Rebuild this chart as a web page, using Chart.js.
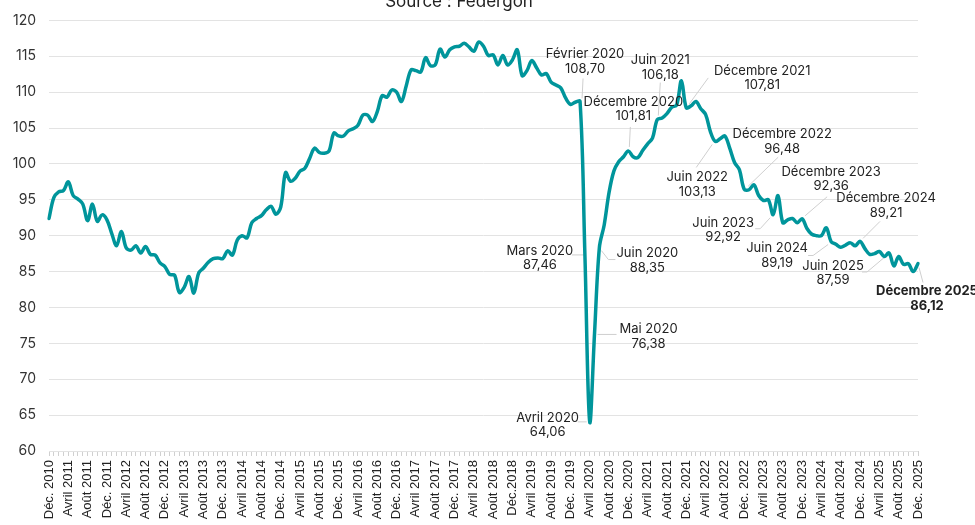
<!DOCTYPE html>
<html lang="fr">
<head>
<meta charset="utf-8">
<script src="https://cdn.jsdelivr.net/npm/chart.js@4.4.1/dist/chart.umd.min.js"></script>
<style>
  html, body { margin: 0; padding: 0; background: #fff; }
  #wrap { position: relative; width: 975px; height: 525px; overflow: hidden; }
  #wrap canvas { position: absolute; left: 0; top: -14px; }
</style>
</head>
<body>
<div id="wrap"><canvas id="chart" width="975" height="539"></canvas></div>
<script>
// --- DATA ---
const monthNames = ['Janvier', 'Février', 'Mars', 'Avril', 'Mai', 'Juin', 'Juillet', 'Août', 'Septembre', 'Octobre', 'Novembre', 'Décembre'];

// Monthly index, Dec. 2010 -> Dec. 2025
const values = [
  92.4,
  95.3, 96.1, 96.3, 97.5, 95.6, 95.1, 94.4, 92.1, 94.4, 92.0, 92.9, 92.2,          // 2011
  90.3, 88.6, 90.6, 88.3, 88.0, 88.6, 87.6, 88.5, 87.4, 87.3, 86.2, 85.7,          // 2012
  84.6, 84.5, 82.1, 82.8, 84.3, 82.0, 84.8, 85.5, 86.3, 86.8, 86.9, 86.8,          // 2013
  87.9, 87.3, 89.4, 90.0, 89.7, 91.8, 92.4, 92.8, 93.6, 94.1, 93.0, 94.0,          // 2014
  98.8, 97.6, 98.0, 99.0, 99.4, 100.8, 102.2, 101.6, 101.5, 101.8, 104.3, 103.9,   // 2015
  103.9, 104.6, 104.9, 105.4, 106.8, 106.8, 105.9, 107.3, 109.5, 109.3, 110.3, 110.0, // 2016
  108.7, 110.9, 113.1, 113.0, 112.8, 114.8, 113.7, 113.8, 116.0, 114.9, 115.9, 116.3, // 2017
  116.4, 116.8, 116.3, 115.7, 117.0, 116.4, 115.1, 115.2, 113.8, 115.1, 113.8, 114.5, // 2018
  115.9, 112.3, 113.0, 114.4, 113.4, 112.4, 112.6, 111.4, 111.0, 110.6, 109.2, 108.3, // 2019
  108.6, 108.70, 87.46, 64.06, 76.38, 88.35, 91.5, 96.0, 99.0, 100.3, 101.0, 101.81, // 2020
  101.0, 100.9, 101.9, 102.8, 103.6, 106.18, 106.4, 107.0, 107.9, 108.2, 111.6, 107.81, // 2021
  108.1, 108.7, 107.7, 106.9, 104.5, 103.13, 103.5, 103.9, 102.2, 100.2, 99.2, 96.48,  // 2022
  96.4, 97.1, 95.6, 94.9, 95.0, 92.92, 95.6, 91.8, 92.2, 92.4, 91.8, 92.36,          // 2023
  91.0, 90.2, 90.0, 90.0, 91.1, 89.19, 88.8, 88.4, 88.7, 89.0, 88.6, 89.21,          // 2024
  88.2, 87.4, 87.5, 87.8, 87.1, 87.59, 85.8, 87.1, 86.0, 86.1, 85.0, 86.12           // 2025
];

const categories = values.map((v, i) => {
  const m = (11 + i) % 12;
  const yr = 2010 + Math.floor((11 + i) / 12);
  return monthNames[m] + ' ' + yr;
});

const tickLabels = [
  'Déc. 2010',
  'Avril 2011', 'Août 2011', 'Déc. 2011',
  'Avril 2012', 'Août 2012', 'Déc. 2012',
  'Avril 2013', 'Août 2013', 'Déc. 2013',
  'Avril 2014', 'Août 2014', 'Déc. 2014',
  'Avril 2015', 'Août 2015', 'Déc. 2015',
  'Avril 2016', 'Août 2016', 'Déc. 2016',
  'Avril 2017', 'Août 2017', 'Déc. 2017',
  'Avril 2018', 'Août 2018', 'Déc.2018',
  'Avril 2019', 'Août 2019', 'Déc. 2019',
  'Avril 2020', 'Août 2020', 'Déc. 2020',
  'Avril 2021', 'Août 2021', 'Déc. 2021',
  'Avril 2022', 'Août 2022', 'Déc. 2022',
  'Avril 2023', 'Août 2023', 'Déc. 2023',
  'Avril 2024', 'Août 2024', 'Déc. 2024',
  'Avril 2025', 'Août 2025', 'Déc. 2025'
];

// annotated months (index into values)
const calloutIdx = [110, 111, 112, 113, 114, 120, 126, 132, 138, 144, 150, 156, 162, 168, 174, 180];

// --- CALLOUT LAYOUT (label offset from point, leader path) ---
const calloutLayout = {
  110: { dx: 5, dy: -47, leader: [[2, -3], [3, -23]] },
  111: { dx: -45, dy: -3, leader: [[-1, 1], [-13, 1]] },
  112: { dx: -42, dy: -4, leader: [[-3, 0], [-12, 0]] },
  113: { dx: 54, dy: -4, leader: [[3, 1], [22, 1]] },
  114: { dx: 48, dy: 6, leader: [[2, 3], [9, 12], [16, 12]] },
  120: { dx: 5, dy: -49, leader: [[1, -4], [2, -24]] },
  126: { dx: 3, dy: -59, leader: [[1, -4], [3, -37]] },
  132: { dx: 76, dy: -37, leader: [[3, -4], [22, -30]] },
  138: { dx: -18, dy: 36, leader: [[-3, 3], [-19, 26]] },
  144: { dx: 38, dy: -55, leader: [[4, -3], [34, -32]] },
  150: { dx: -50, dy: 8, leader: [[-3, 3], [-13, 14], [-18, 14]] },
  156: { dx: 29, dy: -47, leader: [[3, -3], [25, -22]] },
  162: { dx: -54, dy: 7, leader: [[-3, 3], [-18, 14], [-23, 14]] },
  168: { dx: 26, dy: -43, leader: [[3, -3], [20, -20]] },
  174: { dx: -56, dy: 13, leader: [[-3, 3], [-22, 19], [-27, 19]] },
  180: { dx: 9, dy: 28, leader: [[1, 4], [5, 19]], bold: true }
};

const callouts = {
  id: 'callouts',
  beforeDatasetsDraw(chart) {
    const { ctx, scales: { x, y } } = chart;
    ctx.save();
    ctx.strokeStyle = '#cfcfcf';
    ctx.lineWidth = 1;
    calloutIdx.forEach(i => {
      const c = calloutLayout[i];
      const px = x.getPixelForValue(i);
      const py = y.getPixelForValue(values[i]);
      ctx.beginPath();
      c.leader.forEach(([dx, dy], k) => {
        if (k === 0) ctx.moveTo(px + dx, py + dy);
        else ctx.lineTo(px + dx, py + dy);
      });
      ctx.stroke();
    });
    ctx.restore();
  },
  afterDatasetsDraw(chart) {
    const { ctx, scales: { x, y } } = chart;
    ctx.save();
    ctx.textAlign = 'center';
    ctx.textBaseline = 'middle';
    ctx.fillStyle = '#222';
    calloutIdx.forEach(i => {
      const c = calloutLayout[i];
      const px = x.getPixelForValue(i);
      const py = y.getPixelForValue(values[i]);
      ctx.font = (c.bold ? '700 ' : '400 ') + '13px Inter';
      ctx.fillText(categories[i], px + c.dx, py + c.dy);
      ctx.fillText(values[i].toFixed(2).replace('.', ','), px + c.dx, py + c.dy + 14.5);
    });
    ctx.restore();
  }
};

// --- CHART ---
new Chart(document.getElementById('chart'), {
  type: 'line',
  data: {
    labels: categories,
    datasets: [{
      data: values,
      borderColor: '#00959b',
      borderWidth: 3.5,
      pointRadius: 0,
      tension: 0.35,
      fill: false,
      borderCapStyle: 'round',
      borderJoinStyle: 'round'
    }]
  },
  options: {
    responsive: false,
    animation: false,
    layout: { padding: { left: 0, right: 57, top: 0, bottom: 0 } },
    plugins: {
      legend: { display: false },
      tooltip: { enabled: false },
      title: {
        display: true,
        text: 'Source : Federgon',
        color: '#222',
        font: { family: 'Inter', size: 17, weight: '400' },
        padding: { top: 6, bottom: 8 }
      }
    },
    scales: {
      x: {
        ticks: {
          autoSkip: false,
          maxRotation: 90,
          minRotation: 90,
          padding: 4,
          color: '#222',
          font: { family: 'Liberation Sans', size: 13 },
          callback: (v, i) => (i % 4 === 0 ? tickLabels[i / 4] : '')
        },
        grid: { drawOnChartArea: false, drawTicks: true, tickLength: 5, tickColor: '#d0d0d0' },
        border: { display: false },
        afterFit(s) { s.height = 74; }
      },
      y: {
        min: 60,
        max: 120,
        ticks: { stepSize: 5, padding: 13, color: '#333', font: { family: 'Inter', size: 14 } },
        grid: { color: '#e3e3e3', drawTicks: false },
        border: { display: false },
        afterFit(s) { s.width = 49; }
      }
    }
  },
  plugins: [callouts]
});
</script>
</body>
</html>
